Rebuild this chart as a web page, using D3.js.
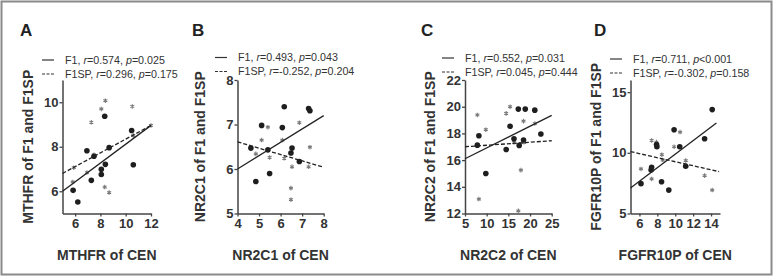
<!DOCTYPE html>
<html>
<head>
<meta charset="utf-8">
<script src="https://cdn.jsdelivr.net/npm/d3@7"></script>
<style>
  body { margin: 0; background: #fff; }
  svg { display: block; font-family: "Liberation Sans", Arial, sans-serif; }
</style>
</head>
<body>
<div id="chart"></div>
<script>
// panel letters, axis names, legend stats
var letters = ["A", "B", "C", "D"];
var genes = ["MTHFR", "NR2C1", "NR2C2", "FGFR10P"];
var f1Stats = [["0.574", "=0.025"], ["0.493", "=0.043"], ["0.552", "=0.031"], ["0.711", "<0.001"]];
var spStats = [["0.296", "=0.175"], ["-0.252", "=0.204"], ["0.045", "=0.444"], ["-0.302", "=0.158"]];

// axis domains and ticks
var xDomains = [[5, 12], [4, 8], [5, 25], [5, 15]];
var yDomains = [[5, 11], [5, 8], [12, 22], [5, 16]];
var xTicks = [[6, 8, 10, 12], [4, 5, 6, 7, 8], [5, 10, 15, 20, 25], [6, 8, 10, 12, 14]];
var yTicks = [[6, 8, 10], [5, 6, 7, 8], [12, 14, 16, 18, 20, 22], [5, 10, 15]];

// F1 points (filled dots)
var f1A = [[8.34, 9.37], [6.93, 7.82], [7.49, 7.57], [8.69, 7.96], [10.47, 8.73], [8.39, 7.21],
           [8.07, 6.99], [8.07, 6.75], [7.28, 6.49], [10.6, 7.19], [5.84, 6.04], [6.21, 5.52]];
var f1B = [[6.17, 7.40], [7.30, 7.36], [7.36, 7.31], [5.12, 6.98], [6.08, 6.93], [4.62, 6.47],
           [5.41, 6.43], [6.53, 6.47], [6.48, 6.36], [6.87, 6.17], [5.49, 5.90], [4.85, 5.72]];
var f1C = [[17.3, 19.82], [18.9, 19.82], [21.1, 19.74], [15.4, 18.54], [8.2, 17.82], [22.5, 17.95],
           [16.3, 17.59], [18.5, 17.51], [17.5, 17.1], [7.85, 17.12], [14.5, 16.79], [9.8, 15.0]];
var f1D = [[14.13, 13.56], [9.87, 11.9], [13.28, 11.16], [7.91, 10.69], [7.95, 10.5], [10.5, 10.5],
           [7.36, 8.81], [7.3, 8.59], [11.17, 8.89], [8.47, 7.62], [6.17, 7.46], [9.28, 6.93]];

// F1SP points (asterisks)
var spA = [[8.39, 10.07], [8.07, 9.70], [10.52, 9.81], [7.28, 9.10], [7.49, 7.64], [5.89, 7.06],
           [6.93, 6.84], [5.81, 6.42], [8.34, 6.19], [8.69, 5.94], [10.6, 8.5], [12.0, 8.96]];
var spB = [[5.41, 6.94], [6.87, 7.04], [5.12, 6.65], [6.08, 6.65], [7.36, 6.49], [4.85, 6.34],
           [5.49, 6.26], [6.17, 6.24], [6.53, 6.05], [7.30, 6.05], [6.48, 5.57], [6.48, 5.31]];
var spC = [[15.4, 20.0], [14.5, 19.5], [7.85, 19.38], [9.8, 18.28], [18.5, 18.92], [21.1, 18.74],
           [16.3, 17.31], [18.6, 17.33], [17.9, 15.25], [8.2, 13.08], [17.3, 12.2]];
var spD = [[10.54, 11.71], [7.36, 11.02], [7.9, 10.89], [9.87, 10.5], [8.5, 9.85], [8.6, 9.4],
           [11.17, 9.36], [6.17, 8.67], [7.36, 7.85], [13.28, 8.12], [14.13, 6.93]];

// regression line end points
var fitF1 = [[[5, 6.0], [12, 8.96]], [[4, 6.0], [8, 7.2]], [[5, 16.1], [25, 19.35]], [[5, 7.1], [14.6, 12.45]]];
var fitSP = [[[5, 6.8], [12, 8.96]], [[4, 6.61], [8, 6.04]], [[5, 17.0], [25, 17.45]], [[5, 10.1], [14.9, 8.45]]];

var f1Pts = [f1A, f1B, f1C, f1D];
var spPts = [spA, spB, spC, spD];

var W = 773, H = 276;
var plotTop = 80, plotBottom = 213.5;
var lefts = [62.5, 237.5, 465, 630.5];
var rights = [151, 323.7, 551.7, 720];
var letterX = [20, 192, 421, 594];
var legX = [42, 215, 442, 610];
var legY = [60, 57.5, 58, 59];
var yTitleX = [33, 205, 435, 601];

var svg = d3.select("#chart").append("svg")
    .attr("width", W)
    .attr("height", H);

// outer frame
svg.append("rect")
    .attr("x", 1.5).attr("y", 1.5)
    .attr("width", W - 3).attr("height", H - 3)
    .attr("fill", "none")
    .attr("stroke", "#8a8a8a")
    .attr("stroke-width", 2);

for (var i = 0; i < 4; i++) {
    var x = d3.scaleLinear().domain(xDomains[i]).range([lefts[i], rights[i]]);
    var y = d3.scaleLinear().domain(yDomains[i]).range([plotBottom, plotTop]);
    var g = svg.append("g");

    // panel letter
    g.append("text")
        .attr("x", letterX[i]).attr("y", 36)
        .attr("font-size", 17).attr("font-weight", "bold")
        .attr("fill", "#222")
        .text(letters[i]);

    // legend
    var leg = [["F1", f1Stats[i], null], ["F1SP", spStats[i], "3,1.5"]];
    leg.forEach(function (l, k) {
        var ly = legY[i] + k * 14;
        g.append("line")
            .attr("x1", legX[i]).attr("x2", legX[i] + 12)
            .attr("y1", ly).attr("y2", ly)
            .attr("stroke", "#333").attr("stroke-width", 1.2)
            .attr("stroke-dasharray", l[2]);
        var t = g.append("text")
            .attr("x", legX[i] + 23).attr("y", ly + 3.8)
            .attr("font-size", 10.7).attr("fill", "#333");
        t.append("tspan").text(l[0] + ", ");
        t.append("tspan").attr("font-style", "italic").text("r");
        t.append("tspan").text("=" + l[1][0] + ", ");
        t.append("tspan").attr("font-style", "italic").text("p");
        t.append("tspan").text(l[1][1]);
    });

    // axes
    var fmt = function (d) { return d; };
    var xAxis = g.append("g")
        .attr("transform", "translate(0," + plotBottom + ")")
        .call(d3.axisBottom(x).tickValues(xTicks[i]).tickFormat(fmt)
            .tickSizeInner(3).tickSizeOuter(0).tickPadding(2));
    var yAxis = g.append("g")
        .attr("transform", "translate(" + lefts[i] + ",0)")
        .call(d3.axisLeft(y).tickValues(yTicks[i]).tickFormat(fmt)
            .tickSizeInner(3).tickSizeOuter(0).tickPadding(1));
    [xAxis, yAxis].forEach(function (a) {
        a.select(".domain").attr("stroke", "#444").attr("stroke-width", 1.5);
        a.selectAll(".tick line").attr("stroke", "#444").attr("stroke-width", 1.3);
        a.selectAll(".tick text")
            .attr("font-size", 13).attr("font-weight", "bold")
            .attr("font-family", "Liberation Sans, Arial, sans-serif")
            .attr("fill", "#333");
    });

    // axis titles
    g.append("text")
        .attr("x", (lefts[i] + rights[i]) / 2).attr("y", 260)
        .attr("text-anchor", "middle")
        .attr("font-size", 14).attr("font-weight", "bold").attr("fill", "#333")
        .text(genes[i] + " of CEN");
    g.append("text")
        .attr("transform", "translate(" + yTitleX[i] + "," + ((plotTop + plotBottom) / 2) + ") rotate(-90)")
        .attr("text-anchor", "middle")
        .attr("font-size", 14).attr("font-weight", "bold").attr("fill", "#333")
        .text(genes[i] + " of F1 and F1SP");

    // asterisks (F1SP)
    g.selectAll(".sp")
        .data(spPts[i])
        .enter().append("path")
        .attr("class", "sp")
        .attr("transform", function (d) { return "translate(" + x(d[0]) + "," + y(d[1]) + ")"; })
        .attr("d", d3.symbol(d3.symbolAsterisk, 14))
        .attr("fill", "none")
        .attr("stroke", "#7a7a7a")
        .attr("stroke-width", 1.1);

    // dots (F1)
    g.selectAll(".f1")
        .data(f1Pts[i])
        .enter().append("circle")
        .attr("class", "f1")
        .attr("cx", function (d) { return x(d[0]); })
        .attr("cy", function (d) { return y(d[1]); })
        .attr("r", 2.8)
        .attr("fill", "#1e1e1e");

    // regression lines
    var line = d3.line()
        .x(function (d) { return x(d[0]); })
        .y(function (d) { return y(d[1]); });
    g.append("path")
        .attr("d", line(fitF1[i]))
        .attr("fill", "none").attr("stroke", "#222").attr("stroke-width", 1.3);
    g.append("path")
        .attr("d", line(fitSP[i]))
        .attr("fill", "none").attr("stroke", "#222").attr("stroke-width", 1.3)
        .attr("stroke-dasharray", "4,2");
}
</script>
</body>
</html>
